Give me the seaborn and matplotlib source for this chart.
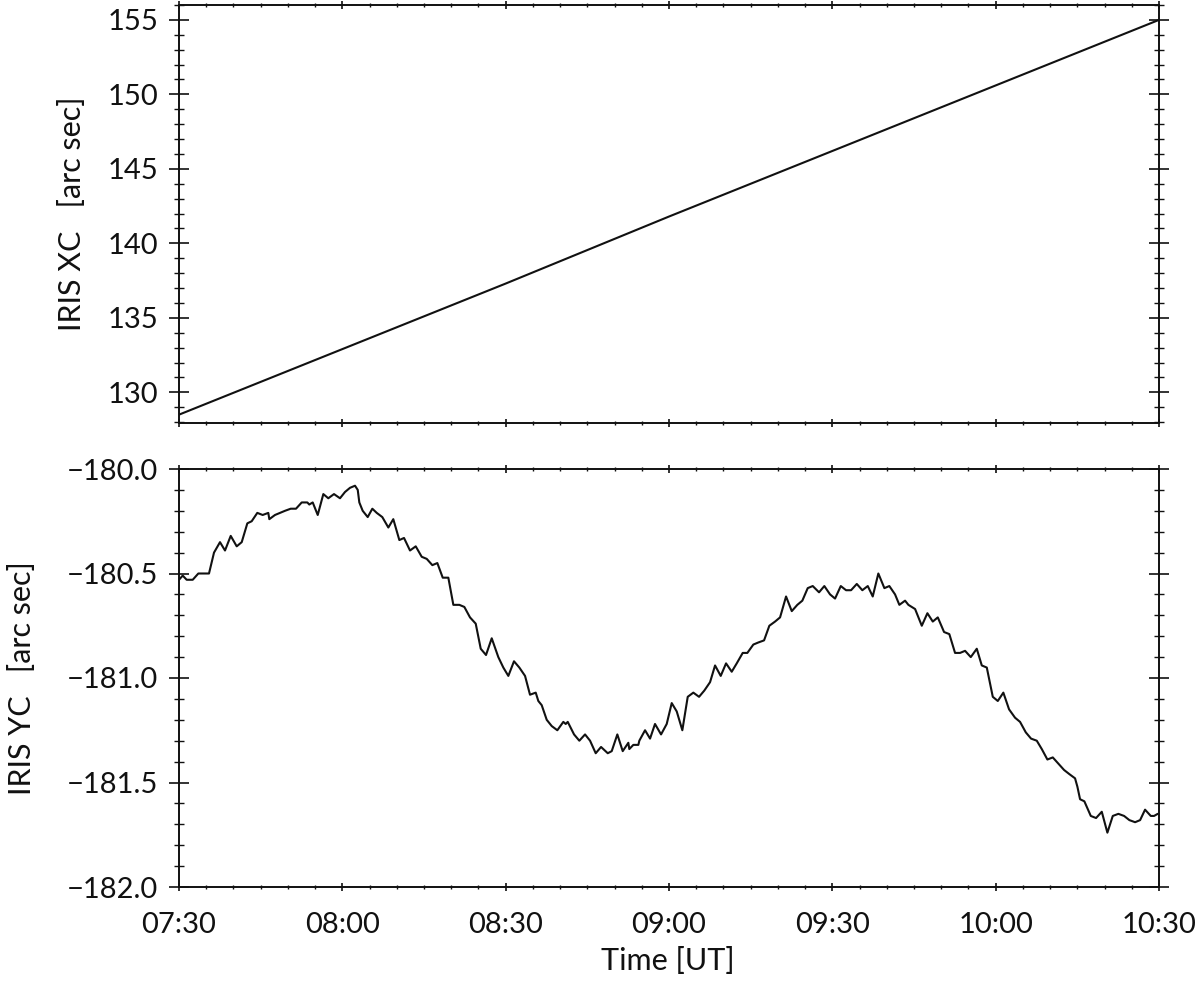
"""
IRIS pointing drift: XC and YC against time, two stacked panels (IDL-like box axes).
"""

import matplotlib

matplotlib.use("Agg")

import matplotlib.dates as mdates
import matplotlib.pyplot as plt
import matplotlib.ticker as mticker
import pandas as pd
import seaborn as sns

# -----------------------------------------------------------------------------
# Data (minutes after 07:30 UT)
# -----------------------------------------------------------------------------
START = pd.Timestamp("2014-01-01 07:30")

xc_minutes = [0, 30, 60, 90, 120, 150, 180]
xc_values = [128.5, 132.9, 137.3, 141.8, 146.2, 150.6, 155.0]

yc_minutes = [
    0.0, 0.68, 1.41, 2.52, 3.55, 4.46, 5.51, 6.43, 7.53, 8.45,
    9.50, 10.60, 11.52, 12.55, 13.35, 14.38, 15.37, 16.40, 16.59, 17.63,
    18.55, 19.47, 20.52, 21.49, 22.54, 23.57, 23.93, 24.56, 25.48, 26.51,
    27.42, 28.47, 29.57, 30.49, 31.41, 32.33, 32.83, 33.12, 33.74, 34.66,
    35.51, 36.32, 37.34, 38.45, 39.36, 40.47, 41.33, 42.43, 43.48, 44.58,
    45.50, 46.53, 47.45, 48.44, 49.47, 50.39, 51.49, 52.41, 53.45, 54.50,
    55.42, 56.39, 57.44, 58.65, 59.57, 60.49, 61.53, 62.51, 63.56, 64.47,
    65.52, 66.00, 66.62, 67.54, 68.46, 69.49, 70.59, 71.03, 71.40, 72.56,
    73.53, 74.58, 75.50, 76.54, 77.52, 78.75, 79.48, 80.51, 81.50, 82.53,
    82.71, 83.45, 84.37, 84.55, 85.60, 86.52, 87.43, 88.54, 89.58, 90.50,
    91.42, 92.45, 93.44, 94.47, 95.52, 96.49, 97.54, 98.46, 99.50, 100.48,
    101.52, 102.44, 103.54, 104.39, 105.49, 106.41, 107.46, 108.43, 109.48, 110.40,
    111.50, 112.55, 113.57, 114.49, 115.48, 116.40, 117.56, 118.53, 119.58, 120.50,
    121.55, 122.52, 123.44, 124.49, 125.51, 126.51, 127.42, 128.45, 129.56, 130.47,
    131.52, 132.31, 133.36, 133.97, 135.20, 136.43, 137.46, 138.45, 139.37, 140.52,
    141.49, 142.54, 143.46, 144.38, 145.43, 146.53, 147.45, 148.37, 149.47, 150.39,
    151.41, 152.46, 153.56, 154.48, 155.53, 156.50, 157.55, 158.47, 159.50, 160.49,
    161.52, 162.56, 163.54, 164.58, 165.01, 165.50, 166.29, 167.47, 168.44, 169.49,
    170.52, 171.51, 172.54, 173.59, 174.56, 175.61, 176.53, 177.44, 178.49, 179.09,
    179.77,
]
yc_values = [
    -180.53, -180.51, -180.53, -180.53, -180.50, -180.50, -180.50, -180.40, -180.35, -180.39,
    -180.32, -180.37, -180.35, -180.26, -180.25, -180.21, -180.22, -180.21, -180.24, -180.22,
    -180.21, -180.20, -180.19, -180.19, -180.16, -180.16, -180.17, -180.16, -180.22, -180.12,
    -180.14, -180.12, -180.14, -180.11, -180.09, -180.08, -180.10, -180.16, -180.20, -180.23,
    -180.19, -180.21, -180.23, -180.28, -180.24, -180.34, -180.33, -180.39, -180.37, -180.42,
    -180.43, -180.46, -180.45, -180.52, -180.52, -180.65, -180.65, -180.66, -180.71, -180.74,
    -180.86, -180.89, -180.81, -180.90, -180.95, -180.99, -180.92, -180.95, -180.99, -181.08,
    -181.07, -181.11, -181.13, -181.20, -181.23, -181.25, -181.21, -181.22, -181.21, -181.27,
    -181.30, -181.27, -181.30, -181.36, -181.33, -181.36, -181.35, -181.27, -181.35, -181.31,
    -181.34, -181.32, -181.32, -181.30, -181.25, -181.29, -181.22, -181.27, -181.22, -181.12,
    -181.16, -181.25, -181.09, -181.07, -181.09, -181.06, -181.02, -180.94, -180.99, -180.93,
    -180.97, -180.93, -180.88, -180.88, -180.84, -180.83, -180.82, -180.75, -180.73, -180.71,
    -180.61, -180.68, -180.65, -180.63, -180.57, -180.56, -180.59, -180.56, -180.60, -180.62,
    -180.56, -180.58, -180.58, -180.55, -180.58, -180.56, -180.61, -180.50, -180.57, -180.56,
    -180.60, -180.65, -180.63, -180.65, -180.67, -180.75, -180.69, -180.73, -180.71, -180.78,
    -180.79, -180.88, -180.88, -180.87, -180.90, -180.86, -180.94, -180.95, -181.09, -181.11,
    -181.07, -181.15, -181.19, -181.21, -181.26, -181.29, -181.30, -181.34, -181.39, -181.38,
    -181.41, -181.44, -181.46, -181.48, -181.52, -181.58, -181.59, -181.66, -181.67, -181.64,
    -181.74, -181.66, -181.65, -181.66, -181.68, -181.69, -181.68, -181.63, -181.66, -181.66,
    -181.65,
]

df_xc = pd.DataFrame({"time": START + pd.to_timedelta(xc_minutes, unit="m"), "xc": xc_values})
df_yc = pd.DataFrame({"time": START + pd.to_timedelta(yc_minutes, unit="m"), "yc": yc_values})

# -----------------------------------------------------------------------------
# Style
# -----------------------------------------------------------------------------
sns.set_theme(style="ticks")
plt.rcParams["font.family"] = ["Lato", "DejaVu Sans"]
plt.rcParams["font.weight"] = "normal"
plt.rcParams["text.color"] = "#111111"
FS = 21
INK = "#111111"

fig = plt.figure(figsize=(12, 9.82), dpi=100)
W, H = 1200.0, 982.0
left, right = 179 / W, 1159 / W
ax_top = fig.add_axes([left, 1 - 423 / H, right - left, (423 - 5) / H])
ax_bot = fig.add_axes([left, 1 - 887 / H, right - left, (887 - 469) / H])

sns.lineplot(data=df_xc, x="time", y="xc", ax=ax_top, color=INK, linewidth=1.5)
sns.lineplot(data=df_yc, x="time", y="yc", ax=ax_bot, color=INK, linewidth=1.5)

t0, t1 = START, START + pd.Timedelta(minutes=180)
minus_fmt = mticker.FuncFormatter(lambda v, _: f"{v:.1f}".replace("-", "\u2212"))

for ax in (ax_top, ax_bot):
    ax.set_xlim(t0, t1)
    ax.xaxis.set_major_locator(mdates.MinuteLocator(byminute=[0, 30]))
    ax.xaxis.set_minor_locator(mdates.MinuteLocator(byminute=range(0, 60, 5)))
    ax.xaxis.set_major_formatter(mdates.DateFormatter("%H:%M"))
    ax.set_xlabel("")
    ax.set_ylabel("")
    for s in ax.spines.values():
        s.set_visible(True)
        s.set_linewidth(1.4)
        s.set_color(INK)
    ax.tick_params(axis="both", which="both", direction="inout", colors=INK,
                   labelcolor=INK, top=True, right=True, labelsize=FS)
    ax.tick_params(axis="x", which="major", length=6, width=1.2, pad=15)
    ax.tick_params(axis="x", which="minor", length=3, width=1.0)
    ax.tick_params(axis="y", which="major", length=14, width=1.2, pad=8)
    ax.tick_params(axis="y", which="minor", length=7, width=1.0)

ax_top.set_ylim(127.94, 156.0)
ax_top.yaxis.set_major_locator(mticker.MultipleLocator(5))
ax_top.yaxis.set_minor_locator(mticker.MultipleLocator(1))
ax_top.tick_params(axis="x", labelbottom=False)

ax_bot.set_ylim(-182.0, -180.0)
ax_bot.yaxis.set_major_locator(mticker.MultipleLocator(0.5))
ax_bot.yaxis.set_minor_locator(mticker.MultipleLocator(0.1))
ax_bot.yaxis.set_major_formatter(minus_fmt)

fig.text(72 / W, 1 - 214 / H, "IRIS XC   [arc sec]", rotation=90,
         ha="center", va="center", fontsize=FS + 1, color=INK)
fig.text(22 / W, 1 - 678 / H, "IRIS YC   [arc sec]", rotation=90,
         ha="center", va="center", fontsize=FS + 1, color=INK)
fig.text(668 / W, 1 - 961 / H, "Time [UT]", ha="center", va="center",
         fontsize=FS + 1, color=INK)

fig.savefig("out.png", dpi=100)
